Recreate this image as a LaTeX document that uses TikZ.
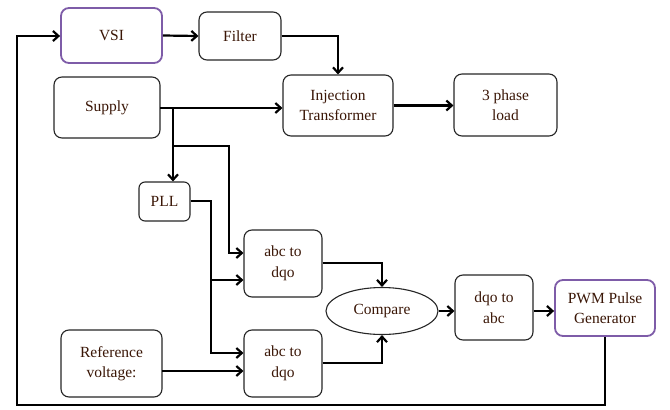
\documentclass[tikz,border=0pt]{standalone}
\usepackage{fontspec}
\setmainfont{Liberation Serif}
\usetikzlibrary{arrows.meta,shapes.geometric}
\definecolor{txt}{HTML}{3A1606}
\definecolor{boxline}{HTML}{262626}
\definecolor{purp}{HTML}{7E5CA8}
\tikzset{
  blk/.style={draw=boxline, line width=1.1pt, rounded corners=8pt, fill=white,
    align=center, text=txt, font=\fontsize{15.5}{20.5}\selectfont, inner sep=0pt},
  pblk/.style={blk, draw=purp, line width=1.8pt},
  conn/.style={line width=2.2pt, black, -{Straight Barb[length=5.5pt,width=10pt]}},
}
\begin{document}
\begin{tikzpicture}[x=1pt,y=-1pt]
\useasboundingbox (0,0) rectangle (670,410);
\node[pblk, minimum width=101pt, minimum height=55pt] (vsi) at (111.5,35.5) {VSI};
\node[blk, minimum width=82pt, minimum height=48pt] (filter) at (240,36) {Filter};
\node[blk, minimum width=106pt, minimum height=61pt] (supply) at (107,107.5) {Supply};
\node[blk, minimum width=110pt, minimum height=61pt] (inj) at (338,105.5) {Injection\\Transformer};
\node[blk, minimum width=103pt, minimum height=62pt] (load) at (505.5,105) {3 phase\\load};
\node[blk, minimum width=51pt, minimum height=39pt, rounded corners=6pt] (pll) at (164.5,201.5) {PLL};
\node[blk, minimum width=78pt, minimum height=67pt] (abca) at (283,263.5) {abc to\\dqo};
\node[blk, minimum width=78pt, minimum height=67pt] (abcb) at (283,363.5) {abc to\\dqo};
\node[blk, minimum width=101pt, minimum height=67pt] (ref) at (111.5,363.5) {Reference\\voltage:};
\node[draw=boxline, line width=1.1pt, ellipse, fill=white, text=txt, font=\fontsize{15.5}{20.5}\selectfont,
  minimum width=112pt, minimum height=47pt, inner sep=0pt] (cmp) at (382,311) {Compare};
\node[blk, minimum width=78pt, minimum height=65pt] (dqo) at (494,307.5) {dqo to\\abc};
\node[pblk, minimum width=100pt, minimum height=56pt] (pwm) at (605,308) {PWM Pulse\\Generator};

\coordinate (j1) at (173,108);
\coordinate (j2) at (173,146);
\coordinate (c2) at (229,146);
\coordinate (c3) at (229,253);
\coordinate (p1) at (211,201);
\coordinate (p2) at (211,353);
\coordinate (p3) at (211,280);
\coordinate (r1) at (162,371);
\coordinate (m1) at (382,263);
\coordinate (m2) at (382,363);
\coordinate (f1) at (605,405);
\coordinate (f2) at (17,405);
\coordinate (f3) at (17,36);
\coordinate (s1) at (160,108);

\draw[conn] (vsi.east) -- (filter.west);
\draw[conn] (filter.east) -| (inj.north);
\draw[conn] (s1) -- (s1 -| inj.west);
\draw[conn] (j1) -- (j1 |- pll.north);
\draw[conn] (j2) -- (c2) -- (c3) -- (c3 -| abca.west);
\draw[conn] (pll.east |- p1) -- (p1) -- (p2) -- (p2 -| abcb.west);
\draw[conn] (p3) -- (p3 -| abca.west);
\draw[conn] (r1) -- (r1 -| abcb.west);
\draw[conn] (abca.east |- m1) -- (m1) -- (cmp.north);
\draw[conn] (abcb.east |- m2) -- (m2) -- (cmp.south);
\draw[conn] (cmp.east) -- (cmp.east -| dqo.west);
\draw[conn] (dqo.east |- cmp.east) -- (pwm.west |- cmp.east);
\draw[conn] (pwm.south -| f1) -- (f1) -- (f2) -- (f3) -- (vsi.west |- f3);
\draw[conn] (inj.east) -- (load.west |- inj.east);
\end{tikzpicture}
\end{document}
